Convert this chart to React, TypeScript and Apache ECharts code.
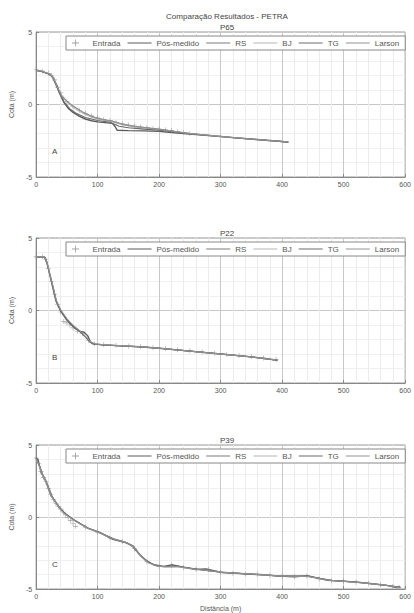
import React, { useEffect, useRef } from "react";
import * as echarts from "echarts";

type Pt = [number, number];

const MAIN_TITLE = "Comparação Resultados - PETRA";
const PROFILE_NAMES = ["P65", "P22", "P39"];
const PANEL_LETTERS = ["A", "B", "C"];
const SERIES_NAMES = ["Entrada", "Pós-medido", "RS", "BJ", "TG", "Larson"];
const X_TICKS = [0, 100, 200, 300, 400, 500, 600];
const Y_TICKS = [-5, 0, 5];

// ---------- P65 ----------
const p65Entrada: Pt[] = [[0,2.4],[10,2.3],[20,2.15],[25,2.0],[30,1.7],[35,1.2],[40,0.8],[45,0.45],[50,0.2],[60,-0.15],[70,-0.4],[80,-0.6],[90,-0.78],[100,-0.92],[110,-1.02],[120,-1.1],[130,-1.25],[140,-1.33],[150,-1.42],[160,-1.48],[170,-1.55],[180,-1.6],[190,-1.65],[200,-1.7],[210,-1.75],[220,-1.8],[230,-1.88],[240,-1.93],[250,-2.0]];
const p65Pos: Pt[] = [[0,2.35],[8,2.3],[15,2.2],[22,2.1],[27,1.9],[32,1.4],[38,0.8],[45,0.15],[52,-0.25],[60,-0.55],[70,-0.8],[80,-1.0],[90,-1.12],[100,-1.2],[112,-1.25],[124,-1.3],[128,-1.5],[132,-1.78],[150,-1.8],[175,-1.82],[200,-1.85],[225,-1.95],[250,-2.03],[275,-2.12],[300,-2.2],[325,-2.3],[350,-2.38],[375,-2.47],[400,-2.55],[410,-2.6]];
const p65RS: Pt[] = [[0,2.38],[10,2.28],[20,2.12],[26,1.98],[31,1.6],[36,1.1],[42,0.6],[48,0.3],[60,-0.1],[75,-0.5],[90,-0.8],[100,-0.95],[115,-1.08],[125,-1.15],[140,-1.35],[160,-1.5],[180,-1.6],[200,-1.7],[225,-1.85],[250,-2.0],[275,-2.1],[300,-2.2],[350,-2.38],[400,-2.55],[410,-2.58]];
const p65BJ: Pt[] = [[0,2.36],[10,2.27],[20,2.12],[26,1.96],[31,1.55],[37,1.0],[43,0.5],[50,0.15],[60,-0.2],[75,-0.6],[90,-0.88],[100,-1.0],[115,-1.12],[125,-1.2],[140,-1.4],[160,-1.55],[180,-1.65],[200,-1.75],[225,-1.88],[250,-2.0],[300,-2.2],[350,-2.4],[400,-2.56],[410,-2.6]];
const p65TG: Pt[] = [[0,2.35],[10,2.26],[20,2.1],[26,1.95],[32,1.45],[38,0.85],[45,0.2],[55,-0.3],[65,-0.6],[80,-0.9],[100,-1.1],[120,-1.22],[135,-1.5],[150,-1.6],[175,-1.7],[200,-1.78],[225,-1.9],[250,-2.02],[300,-2.22],[350,-2.4],[400,-2.56],[410,-2.6]];
const p65Larson: Pt[] = [[0,2.37],[10,2.29],[20,2.13],[26,1.97],[31,1.58],[36,1.05],[42,0.55],[49,0.25],[60,-0.12],[75,-0.52],[90,-0.82],[100,-0.96],[115,-1.1],[125,-1.17],[140,-1.37],[160,-1.52],[180,-1.62],[200,-1.72],[225,-1.86],[250,-2.0],[300,-2.21],[350,-2.39],[400,-2.55],[410,-2.59]];

// ---------- P22 ----------
const p22Entrada: Pt[] = [[0,3.7],[10,3.7],[16,3.5],[20,2.9],[25,2.0],[30,1.1],[35,0.4],[40,-0.1],[45,-0.75],[50,-0.85],[55,-1.0],[60,-1.2],[67,-1.45],[75,-1.6],[85,-2.05],[95,-2.3],[110,-2.35],[130,-2.4],[150,-2.45],[170,-2.48],[190,-2.55],[210,-2.62],[230,-2.7],[250,-2.78],[270,-2.87],[290,-2.95],[310,-3.03],[330,-3.1],[350,-3.18],[370,-3.27],[390,-3.38]];
const p22Pos: Pt[] = [[0,3.7],[8,3.7],[14,3.68],[17,3.4],[21,2.7],[27,1.6],[32,0.7],[40,-0.05],[48,-0.55],[56,-0.95],[64,-1.25],[72,-1.45],[78,-1.5],[84,-1.75],[88,-2.15],[92,-2.3],[104,-2.35],[130,-2.42],[168,-2.5],[200,-2.6],[250,-2.8],[300,-3.0],[350,-3.2],[393,-3.42]];
const p22RS: Pt[] = [[0,3.68],[8,3.68],[14,3.65],[18,3.2],[22,2.5],[28,1.5],[33,0.6],[40,0.0],[50,-0.6],[60,-1.05],[70,-1.4],[80,-1.8],[88,-2.2],[96,-2.32],[110,-2.37],[140,-2.44],[170,-2.5],[200,-2.6],[250,-2.8],[300,-3.0],[350,-3.2],[393,-3.44]];
const p22BJ: Pt[] = [[0,3.7],[8,3.7],[14,3.66],[18,3.25],[22,2.55],[28,1.55],[33,0.65],[40,0.02],[50,-0.58],[60,-1.02],[70,-1.38],[80,-1.78],[88,-2.18],[96,-2.3],[110,-2.36],[140,-2.43],[170,-2.5],[200,-2.61],[250,-2.8],[300,-3.01],[350,-3.21],[393,-3.43]];
const p22TG: Pt[] = [[0,3.69],[8,3.69],[14,3.66],[18,3.22],[22,2.52],[28,1.52],[33,0.62],[40,-0.02],[50,-0.62],[60,-1.08],[70,-1.42],[80,-1.82],[88,-2.2],[96,-2.33],[110,-2.38],[140,-2.45],[170,-2.51],[200,-2.6],[250,-2.8],[300,-3.0],[350,-3.2],[393,-3.44]];
const p22Larson: Pt[] = [[0,3.7],[8,3.7],[14,3.67],[18,3.3],[22,2.6],[28,1.6],[33,0.7],[40,0.05],[50,-0.55],[60,-1.0],[70,-1.35],[80,-1.75],[88,-2.15],[96,-2.3],[110,-2.36],[140,-2.43],[170,-2.5],[200,-2.6],[250,-2.8],[300,-3.0],[350,-3.2],[393,-3.43]];

// ---------- P39 ----------
const p39Entrada: Pt[] = [[0,4.1],[4,3.7],[8,3.15],[12,2.75],[16,2.45],[20,2.0],[24,1.55],[28,1.2],[32,0.95],[36,0.75],[40,0.55],[44,0.35],[48,0.15],[52,-0.05],[56,-0.25],[60,-0.45],[64,-0.65],[80,-0.7],[100,-1.05],[120,-1.45],[140,-1.7],[160,-2.2],[180,-3.1],[200,-3.42],[220,-3.35],[240,-3.5],[260,-3.62],[280,-3.65],[300,-3.83],[320,-3.9],[340,-3.95],[360,-3.98],[380,-4.05],[400,-4.1],[420,-4.13],[440,-4.1],[460,-4.3],[480,-4.42],[500,-4.46],[520,-4.52],[540,-4.6],[560,-4.7],[580,-4.82],[590,-4.88]];
const p39Pos: Pt[] = [[0,4.1],[3,4.0],[8,3.1],[16,2.45],[24,1.5],[35,0.8],[45,0.3],[61,-0.2],[83,-0.75],[104,-1.1],[125,-1.55],[147,-1.8],[157,-2.05],[168,-2.6],[178,-3.0],[190,-3.3],[206,-3.45],[222,-3.32],[240,-3.5],[260,-3.65],[276,-3.6],[302,-3.85],[340,-3.95],[370,-4.0],[393,-4.1],[420,-4.15],[441,-4.08],[474,-4.4],[500,-4.45],[527,-4.55],[550,-4.65],[570,-4.75],[586,-4.9],[592,-4.85]];
const p39RS: Pt[] = [[0,4.05],[5,3.6],[10,3.0],[18,2.3],[26,1.4],[36,0.75],[46,0.25],[62,-0.22],[84,-0.78],[105,-1.12],[126,-1.5],[146,-1.75],[158,-2.0],[170,-2.7],[182,-3.15],[195,-3.38],[210,-3.45],[230,-3.45],[260,-3.62],[300,-3.82],[340,-3.93],[393,-4.08],[440,-4.12],[480,-4.4],[527,-4.55],[570,-4.74],[592,-4.88]];
const p39BJ: Pt[] = [[0,4.0],[5,3.55],[10,2.95],[18,2.25],[26,1.35],[36,0.72],[46,0.22],[62,-0.25],[84,-0.8],[105,-1.15],[126,-1.52],[146,-1.78],[158,-2.05],[170,-2.75],[182,-3.18],[195,-3.4],[210,-3.47],[230,-3.47],[260,-3.63],[300,-3.83],[340,-3.94],[393,-4.09],[440,-4.13],[480,-4.41],[527,-4.56],[570,-4.75],[592,-4.9]];
const p39TG: Pt[] = [[0,4.08],[5,3.62],[10,3.02],[18,2.32],[26,1.42],[36,0.78],[46,0.27],[62,-0.2],[84,-0.76],[105,-1.1],[126,-1.54],[146,-1.79],[158,-2.02],[170,-2.68],[182,-3.12],[195,-3.36],[210,-3.44],[230,-3.4],[260,-3.62],[300,-3.84],[340,-3.95],[393,-4.1],[440,-4.1],[480,-4.4],[527,-4.55],[570,-4.76],[592,-4.87]];
const p39Larson: Pt[] = [[0,4.06],[5,3.58],[10,2.98],[18,2.28],[26,1.38],[36,0.74],[46,0.24],[62,-0.23],[84,-0.77],[105,-1.13],[126,-1.53],[146,-1.77],[158,-2.03],[170,-2.72],[182,-3.16],[195,-3.39],[210,-3.46],[230,-3.44],[260,-3.63],[300,-3.83],[340,-3.94],[393,-4.09],[440,-4.11],[480,-4.41],[527,-4.56],[570,-4.75],[592,-4.89]];

const PROFILES: Pt[][][] = [
  [p65Entrada, p65Pos, p65RS, p65BJ, p65TG, p65Larson],
  [p22Entrada, p22Pos, p22RS, p22BJ, p22TG, p22Larson],
  [p39Entrada, p39Pos, p39RS, p39BJ, p39TG, p39Larson],
];

const LINE_COLORS = ["#8a8a8a", "#5a5a5a", "#7a7a7a", "#b5b5b5", "#6a6a6a", "#939393"];
const LINE_WIDTHS = [1, 1.4, 1, 1, 1.1, 1];

const FONT = "Liberation Sans, Arial, sans-serif";
const GRID_LEFT = 35;
const GRID_WIDTH = 374;
const GRID_TOPS = [32, 238, 445];
const GRID_HEIGHT = 145;
const PLUS = "path://M4.4,0H5.6V10H4.4ZM0,4.4H10V5.6H0Z";
const LINE_ICON = "path://M0,0H24V1H0Z";

export default function App() {
  const ref = useRef<HTMLDivElement>(null);
  useEffect(() => {
    if (!ref.current) return;
    const chart = echarts.init(ref.current, undefined, { renderer: "svg" });
    const grids: any[] = [];
    const xAxes: any[] = [];
    const yAxes: any[] = [];
    const series: any[] = [];
    const legends: any[] = [];
    const titles: any[] = [
      {
        text: MAIN_TITLE,
        left: GRID_LEFT + GRID_WIDTH / 2,
        textAlign: "center",
        top: 7,
        textStyle: { fontFamily: FONT, fontSize: 8, fontWeight: "normal", color: "#444" },
      },
    ];
    const graphics: any[] = [];
    PROFILES.forEach((prof, i) => {
      const top = GRID_TOPS[i];
      grids.push({
        left: GRID_LEFT, top, width: GRID_WIDTH, height: GRID_HEIGHT,
        show: true, borderColor: "#999", borderWidth: 1, backgroundColor: "#fff",
      });
      xAxes.push({
        type: "value", gridIndex: i, min: 0, max: 600, interval: 100,
        axisLine: { show: true, onZero: false, lineStyle: { color: "#888" } },
        axisTick: { show: true, inside: true, length: 3, lineStyle: { color: "#888" } },
        minorTick: { show: false, splitNumber: 5 },
        splitLine: { show: true, lineStyle: { color: "#c8c8c8", width: 1 } },
        minorSplitLine: { show: true, lineStyle: { color: "#ececec", width: 1 } },
        axisLabel: { fontFamily: FONT, fontSize: 7, color: "#555", margin: 4,
          formatter: (v: number) => (X_TICKS.includes(v) ? String(v) : "") },
        name: i === 2 ? "Distância (m)" : "",
        nameLocation: "middle", nameGap: 16,
        nameTextStyle: { fontFamily: FONT, fontSize: 7, color: "#555" },
      });
      yAxes.push({
        type: "value", gridIndex: i, min: -5, max: 5, interval: 5,
        axisLine: { show: true, onZero: false, lineStyle: { color: "#888" } },
        axisTick: { show: true, inside: true, length: 3, lineStyle: { color: "#888" } },
        minorTick: { show: false, splitNumber: 5 },
        splitLine: { show: true, lineStyle: { color: "#c8c8c8", width: 1 } },
        minorSplitLine: { show: true, lineStyle: { color: "#f0f0f0", width: 1 } },
        axisLabel: { fontFamily: FONT, fontSize: 7, color: "#555", margin: 4,
          formatter: (v: number) => (Y_TICKS.includes(v) ? String(v) : "") },
        name: "Cota (m)", nameLocation: "middle", nameGap: 18,
        nameTextStyle: { fontFamily: FONT, fontSize: 7, color: "#555" },
      });
      titles.push({
        text: PROFILE_NAMES[i],
        left: GRID_LEFT + GRID_WIDTH / 2,
        textAlign: "center",
        top: top - 14,
        textStyle: { fontFamily: FONT, fontSize: 8, fontWeight: "normal", color: "#444" },
      });
      graphics.push({
        type: "text", left: 52, top: top + GRID_HEIGHT - 30,
        style: { text: PANEL_LETTERS[i], fontFamily: FONT, fontSize: 8, fill: "#444" },
      });
      legends.push({
        data: SERIES_NAMES.map((n, k) => ({ name: n, icon: k === 0 ? PLUS : LINE_ICON })),
        left: 66, top: top + 4, width: 345, orient: "horizontal",
        itemWidth: 24, itemHeight: 7, itemGap: 7,
        symbolKeepAspect: true,
        padding: [3, 6],
        borderColor: "#888", borderWidth: 1, backgroundColor: "#fff",
        textStyle: { fontFamily: FONT, fontSize: 8, color: "#555" },
        selectedMode: false,
      });
      prof.forEach((data, k) => {
        if (k === 0) {
          series.push({
            name: SERIES_NAMES[k], type: "scatter", xAxisIndex: i, yAxisIndex: i,
            data, symbol: PLUS, symbolSize: 5,
            itemStyle: { color: LINE_COLORS[k] }, z: 3,
          });
        } else {
          series.push({
            name: SERIES_NAMES[k], type: "line", xAxisIndex: i, yAxisIndex: i,
            data, symbol: "none", showSymbol: false,
            lineStyle: { color: LINE_COLORS[k], width: LINE_WIDTHS[k] },
            itemStyle: { color: LINE_COLORS[k] }, z: 2 + k,
          });
        }
      });
    });
    chart.setOption({
      animation: false,
      backgroundColor: "#fff",
      title: titles,
      grid: grids,
      xAxis: xAxes,
      yAxis: yAxes,
      legend: legends,
      series,
      graphic: graphics,
    });
    return () => chart.dispose();
  }, []);
  return (
    <div
      ref={ref}
      style={{ position: "absolute", left: 0, top: 0, width: 414, height: 613 }}
    />
  );
}
